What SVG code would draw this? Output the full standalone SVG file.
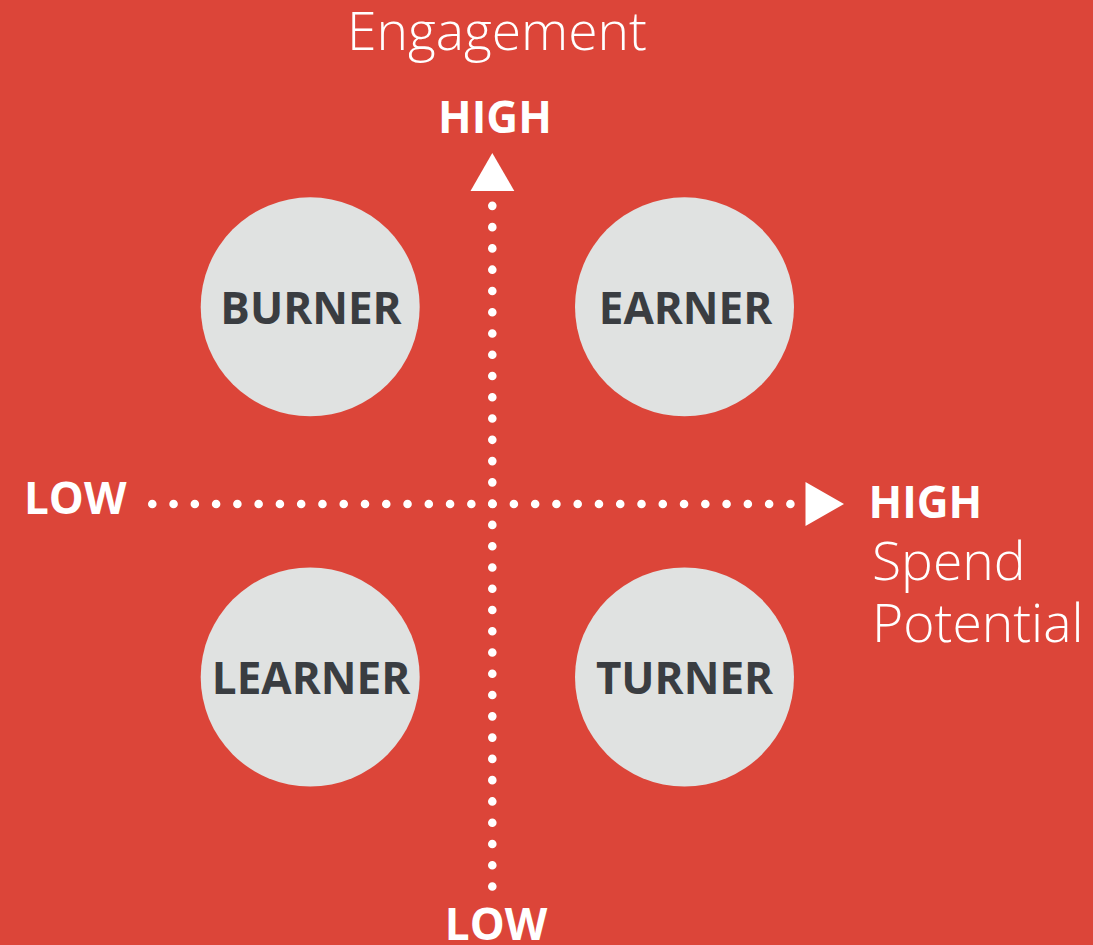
<svg xmlns="http://www.w3.org/2000/svg" width="1093" height="945" viewBox="0 0 1093 945">
  <style>
    .node circle { fill: #E0E2E1; }
    .node text { font-family: "Open Sans", "Liberation Sans", sans-serif; font-weight: 700; font-size: 44px; fill: #3A3D41; text-anchor: middle; }
    .axis { font-family: "Open Sans", "Liberation Sans", sans-serif; font-weight: 700; font-size: 44px; fill: #FFFFFF; }
    .title { font-family: "Open Sans", "Liberation Sans", sans-serif; font-weight: 300; font-size: 53.4px; fill: #FFFFFF; }
    .dots { fill: none; stroke: #FFFFFF; stroke-width: 8.6; stroke-linecap: round; stroke-dasharray: 0 21.27; }
    .head { fill: #FFFFFF; }
  </style>
  <rect x="0" y="0" width="1093" height="945" fill="#DC4539"/>

  <g id="connectors">
    <path class="dots" d="M492.3,886.5 L492.3,205.5"/>
    <path class="dots" d="M152.3,504 L791,504"/>
    <polygon class="head" points="492.3,153 470.5,191 514.3,191"/>
    <polygon class="head" points="844,504 805.5,482 805.5,526"/>
  </g>

  <g id="burner" class="node">
    <circle cx="310.2" cy="306.8" r="109.5"/>
    <text x="311" y="323.5">BURNER</text>
  </g>
  <g id="earner" class="node">
    <circle cx="684.5" cy="306.8" r="109.5"/>
    <text x="685.5" y="323.5">EARNER</text>
  </g>
  <g id="learner" class="node">
    <circle cx="310.2" cy="677" r="109.5"/>
    <text x="311" y="693.5">LEARNER</text>
  </g>
  <g id="turner" class="node">
    <circle cx="684.5" cy="677" r="109.5"/>
    <text x="684.5" y="693.5">TURNER</text>
  </g>

  <g id="labels">
    <text class="title" x="497" y="49.5" text-anchor="middle">Engagement</text>
    <text class="axis" x="495" y="133" text-anchor="middle">HIGH</text>
    <text class="axis" x="496" y="940" text-anchor="middle">LOW</text>
    <text class="axis" x="24" y="513.5">LOW</text>
    <text class="axis" x="868.5" y="517.5">HIGH</text>
    <text class="title" x="872" y="580">Spend</text>
    <text class="title" x="872" y="642">Potential</text>
  </g>
</svg>
